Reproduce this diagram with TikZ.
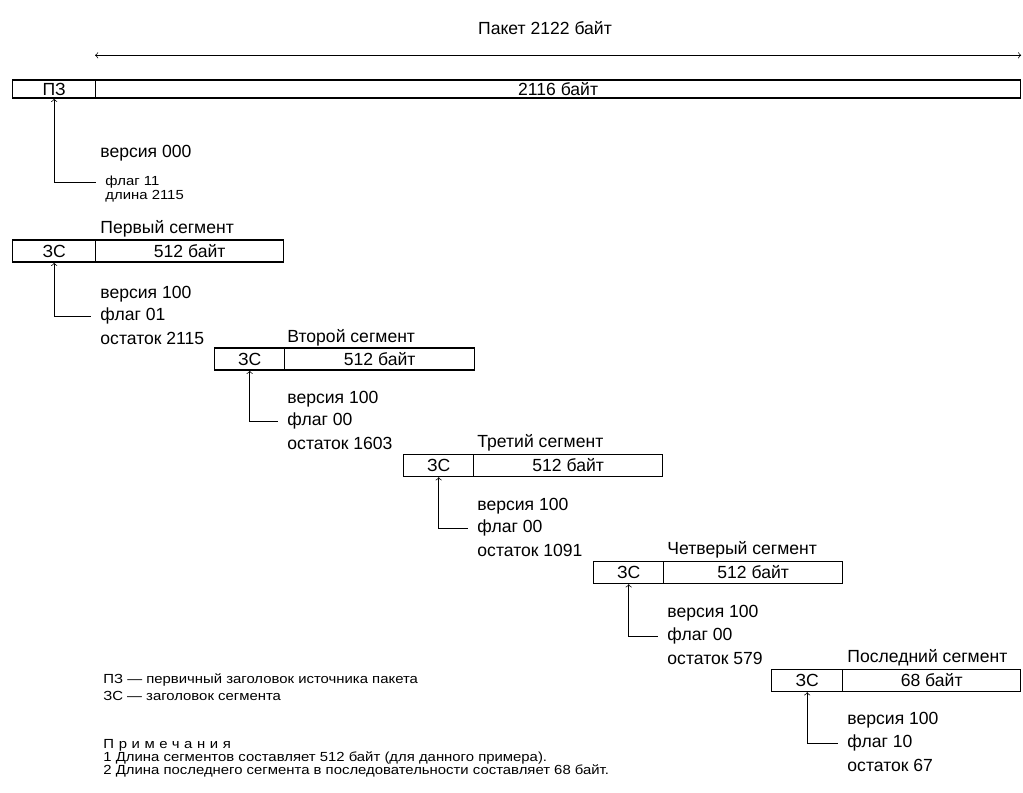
\documentclass[tikz,border=0pt]{standalone}
\usepackage{fontspec}
\setmainfont{Liberation Sans}

\begin{document}
\begin{tikzpicture}[x=0.02cm, y=-0.02cm, line width=0.8pt,
  hdr/.style={draw, anchor=west, inner sep=0pt, minimum height=0.44cm,
    font=\fontsize{10}{12}\selectfont},
  lbl/.style={anchor=west, inner sep=1pt, font=\fontsize{10}{12}\selectfont},
  sml/.style={anchor=west, inner sep=1pt,
    font=\fontsize{7.5}{9}\selectfont\addfontfeature{FakeStretch=1.13}},
  conn/.style={->, thin, shorten <=4pt}]
  \useasboundingbox (0,0) rectangle (1023,793);

  % packet
  \node[font=\fontsize{10}{12}\selectfont] (title) at (545,28) {Пакет 2122 байт};
  \node[hdr, minimum width=1.66cm, minimum height=0.36cm] (hdr0) at (12,89) {ПЗ};
  \node[hdr, minimum width=18.5cm, minimum height=0.36cm] (dat0) at (95,89) {2116 байт};
  \draw[<->, thin] ([yshift=0.48cm]dat0.north west) -- ([yshift=0.48cm]dat0.north east);

  \node[lbl] (ver1)  at (98,153) {версия 000};
  \node[sml] (flag1) at (103,182) {флаг 11};
  \node[sml] (len1)  at (103,196) {длина 2115};
  \draw[conn] (flag1.west) -| (hdr0.south);

  % first segment
  \node[lbl] (name1) at (98,229) {Первый сегмент};
  \node[hdr, minimum width=1.66cm] (hdr1) at (12,251) {ЗС};
  \node[hdr, minimum width=3.76cm] (dat1) at (95,251) {512 байт};

  \node[lbl] (ver2)  at (98,294) {версия 100};
  \node[lbl] (flag2) at (98,316) {флаг 01};
  \node[lbl] (rest2) at (98,338) {остаток 2115};
  \draw[conn] (flag2.west) -| (hdr1.south);

  % second segment
  \node[lbl] (name2) at (285,338) {Второй сегмент};
  \node[hdr, minimum width=1.4cm] (hdr2) at (214,359) {ЗС};
  \node[hdr, minimum width=3.8cm] (dat2) at (284,359) {512 байт};

  \node[lbl] (ver3)  at (285,399) {версия 100};
  \node[lbl] (flag3) at (285,421) {флаг 00};
  \node[lbl] (rest3) at (285,443) {остаток 1603};
  \draw[conn] (flag3.west) -| (hdr2.south);

  % third segment
  \node[lbl] (name3) at (475,443) {Третий сегмент};
  \node[hdr, minimum width=1.4cm] (hdr3) at (403,465.5) {ЗС};
  \node[hdr, minimum width=3.78cm] (dat3) at (473,465.5) {512 байт};

  \node[lbl] (ver4)  at (475,506) {версия 100};
  \node[lbl] (flag4) at (475,528) {флаг 00};
  \node[lbl] (rest4) at (475,550) {остаток 1091};
  \draw[conn] (flag4.west) -| (hdr3.south);

  % fourth segment
  \node[lbl] (name4) at (665,550) {Четверый сегмент};
  \node[hdr, minimum width=1.4cm] (hdr4) at (593,572.5) {ЗС};
  \node[hdr, minimum width=3.58cm] (dat4) at (663,572.5) {512 байт};

  \node[lbl] (ver5)  at (665,613) {версия 100};
  \node[lbl] (flag5) at (665,636) {флаг 00};
  \node[lbl] (rest5) at (665,658) {остаток 579};
  \draw[conn] (flag5.west) -| (hdr4.south);

  % last segment
  \node[lbl] (name5) at (845,658) {Последний сегмент};
  \node[hdr, minimum width=1.42cm] (hdr5) at (771,680.5) {ЗС};
  \node[hdr, minimum width=3.56cm] (dat5) at (842,680.5) {68 байт};

  \node[lbl] (ver6)  at (845,720) {версия 100};
  \node[lbl] (flag6) at (845,743) {флаг 10};
  \node[lbl] (rest6) at (845,765) {остаток 67};
  \draw[conn] (flag6.west) -| (hdr5.south);

  % legend and notes
  \node[sml] (key1) at (101,680) {ПЗ --- первичный заголовок источника пакета};
  \node[sml] (key2) at (101,696) {ЗС --- заголовок сегмента};
  \node[sml] (note0) at (101,745) {\addfontfeature{LetterSpace=35}Примечания};
  \node[sml] (note1) at (101,758) {1 Длина сегментов составляет 512 байт (для данного примера).};
  \node[sml] (note2) at (101,771) {2 Длина последнего сегмента в последовательности составляет 68 байт.};
\end{tikzpicture}
\end{document}
